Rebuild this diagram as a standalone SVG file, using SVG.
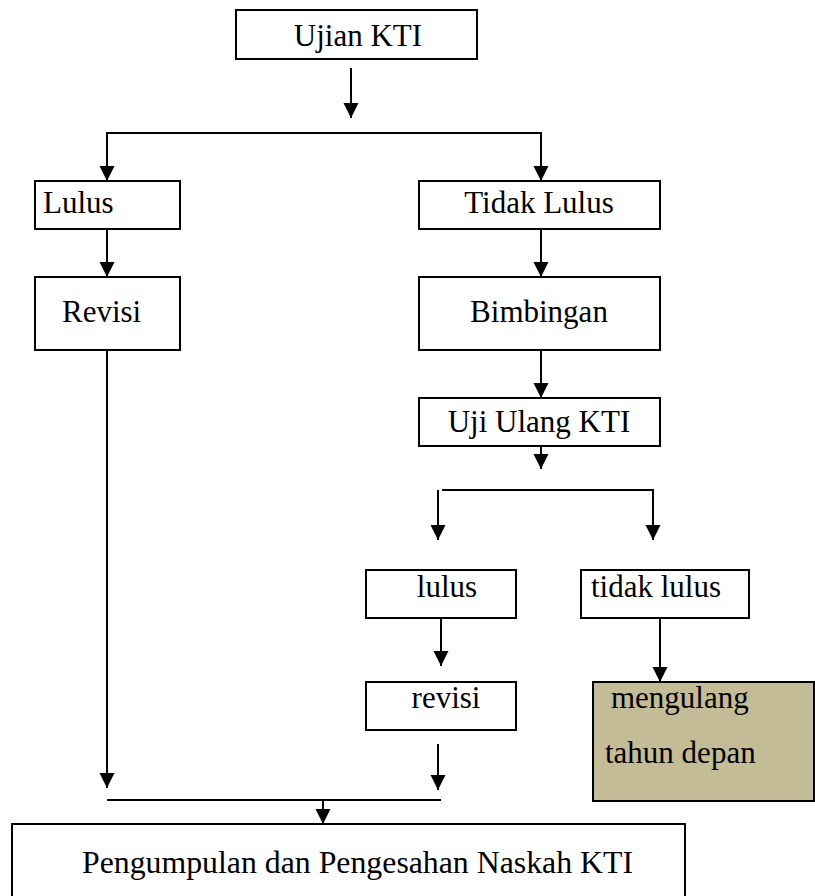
<svg xmlns="http://www.w3.org/2000/svg" width="815" height="896" viewBox="0 0 815 896">
<style>
.box{fill:#fff;stroke:#000;stroke-width:2}
.tan{fill:#c4bc96;stroke:#000;stroke-width:2}
.t{font-family:"Liberation Serif","Times New Roman",serif;font-size:31px;fill:#000}
.c{text-anchor:middle}
.ln{fill:none;stroke:#000;stroke-width:2}
</style>
<defs>
<marker id="ah" markerUnits="userSpaceOnUse" markerWidth="16" markerHeight="16" refX="15" refY="7.5" orient="auto">
<path d="M0,0 L15,7.5 L0,15 z" fill="#000"/>
</marker>
</defs>
<rect width="815" height="896" fill="#fff"/>
<g id="connectors">
<line class="ln" x1="351" y1="68" x2="351" y2="118" marker-end="url(#ah)"/>
<polyline class="ln" points="107,181 107,133 541,133 541,181"/>
<line class="ln" x1="107" y1="133" x2="107" y2="181" marker-end="url(#ah)"/>
<line class="ln" x1="541" y1="133" x2="541" y2="181" marker-end="url(#ah)"/>
<line class="ln" x1="107" y1="229" x2="107" y2="277" marker-end="url(#ah)"/>
<line class="ln" x1="541" y1="229" x2="541" y2="277" marker-end="url(#ah)"/>
<line class="ln" x1="541" y1="350" x2="541" y2="398" marker-end="url(#ah)"/>
<line class="ln" x1="541" y1="446" x2="541" y2="469" marker-end="url(#ah)"/>
<polyline class="ln" points="442,490 653,490 653,540"/>
<line class="ln" x1="653" y1="490" x2="653" y2="540" marker-end="url(#ah)"/>
<line class="ln" x1="438" y1="490" x2="438" y2="540" marker-end="url(#ah)"/>
<line class="ln" x1="441" y1="618" x2="441" y2="666" marker-end="url(#ah)"/>
<line class="ln" x1="660" y1="618" x2="660" y2="682" marker-end="url(#ah)"/>
<line class="ln" x1="107" y1="350" x2="107" y2="788" marker-end="url(#ah)"/>
<line class="ln" x1="438" y1="744" x2="438" y2="790" marker-end="url(#ah)"/>
<line class="ln" x1="107" y1="800" x2="441" y2="800"/>
<line class="ln" x1="323" y1="800" x2="323" y2="824" marker-end="url(#ah)"/>
</g>
<g id="ujian"><rect class="box" x="236" y="10" width="241" height="49"/><text class="t c" x="358" y="46">Ujian KTI</text></g>
<g id="lulus"><rect class="box" x="35" y="181" width="145" height="48"/><text class="t" x="43" y="213">Lulus</text></g>
<g id="tidaklulus"><rect class="box" x="419" y="181" width="241" height="48"/><text class="t c" x="539" y="213">Tidak Lulus</text></g>
<g id="revisi"><rect class="box" x="35" y="277" width="145" height="73"/><text class="t" x="62" y="322">Revisi</text></g>
<g id="bimbingan"><rect class="box" x="419" y="277" width="241" height="73"/><text class="t c" x="539" y="322">Bimbingan</text></g>
<g id="ujiulang"><rect class="box" x="419" y="398" width="241" height="48"/><text class="t c" x="539" y="432">Uji Ulang KTI</text></g>
<g id="lulus2"><rect class="box" x="366" y="570" width="150" height="48"/><text class="t c" x="447" y="597">lulus</text></g>
<g id="tidaklulus2"><rect class="box" x="581" y="570" width="168" height="48"/><text class="t" x="591" y="597">tidak lulus</text></g>
<g id="revisi2"><rect class="box" x="366" y="682" width="150" height="48"/><text class="t c" x="446" y="708">revisi</text></g>
<g id="mengulang"><rect class="tan" x="593" y="682" width="221" height="119"/><text class="t" x="611" y="708">mengulang</text><text class="t" x="605" y="763">tahun depan</text></g>
<g id="pengumpulan"><rect class="box" x="12" y="824" width="673" height="90"/><text class="t" x="82" y="873" font-size="30" textLength="551" lengthAdjust="spacingAndGlyphs">Pengumpulan dan Pengesahan Naskah KTI</text></g>
</svg>
